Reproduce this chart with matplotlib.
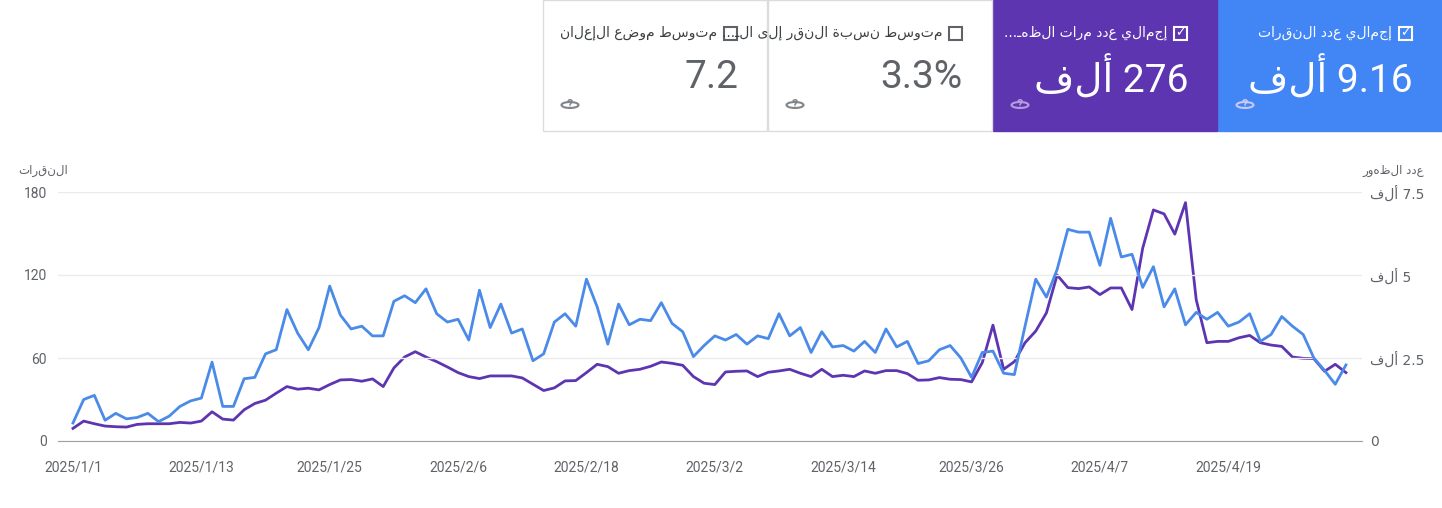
import numpy as np
import pandas as pd
import matplotlib.pyplot as plt
from matplotlib.patches import Rectangle, Circle

# daily clicks (left axis)
clicks = [13, 30, 33, 15, 20, 16, 17, 20, 14, 18, 25, 29, 31, 57, 25, 25, 45, 46, 63, 66,
          95, 78, 66, 82, 112, 91, 81, 83, 76, 76, 101, 105, 100, 110, 92, 86, 88, 73, 109, 82,
          99, 78, 81, 58, 63, 86, 92, 83, 117, 97, 70, 99, 84, 88, 87, 100, 85, 79, 61, 69,
          76, 73, 77, 70, 76, 74, 92, 76, 82, 64, 79, 68, 69, 65, 72, 64, 81, 68, 72, 56,
          58, 66, 69, 60, 46, 64, 65, 49, 48, 83, 117, 104, 124, 153, 151, 151, 127, 161, 133, 135,
          111, 126, 97, 110, 84, 93, 88, 93, 83, 86, 92, 72, 77, 90, 83, 77, 60, 51, 41, 55]
# daily impressions in thousands (right axis)
impr = [0.38, 0.60, 0.52, 0.45, 0.43, 0.42, 0.50, 0.52, 0.52, 0.52, 0.56, 0.54, 0.60, 0.88, 0.66,
        0.63, 0.94, 1.13, 1.23, 1.44, 1.64, 1.56, 1.59, 1.54, 1.70, 1.84, 1.85, 1.80, 1.87, 1.64,
        2.20, 2.53, 2.69, 2.53, 2.39, 2.23, 2.06, 1.94, 1.88, 1.96, 1.96, 1.96, 1.90, 1.71, 1.52,
        1.60, 1.81, 1.82, 2.06, 2.31, 2.24, 2.04, 2.12, 2.16, 2.25, 2.38, 2.34, 2.28, 1.94, 1.74,
        1.70, 2.08, 2.10, 2.11, 1.94, 2.07, 2.11, 2.16, 2.04, 1.94, 2.16, 1.94, 1.98, 1.94, 2.11,
        2.04, 2.12, 2.12, 2.03, 1.83, 1.84, 1.91, 1.86, 1.85, 1.78, 2.36, 3.49, 2.16, 2.39, 2.96,
        3.31, 3.86, 5.00, 4.62, 4.59, 4.64, 4.41, 4.61, 4.61, 3.96, 5.81, 6.96, 6.84, 6.23, 7.18,
        4.26, 2.96, 3.00, 3.00, 3.11, 3.18, 2.96, 2.89, 2.85, 2.53, 2.49, 2.48, 2.10, 2.31, 2.06]
dates = pd.date_range('2025-01-01', periods=len(clicks), freq='D')
tick_days = list(range(0, 109, 12))
tick_labels = [f"{dates[d].year}/{dates[d].month}/{dates[d].day}" for d in tick_days]

# cards: label, value, unit, checked, face colour
cards = [
    ("إجمالي عدد النقرات", "9.16", "ألف", True, "#4285f4"),
    ("إجمالي عدد مرات الظهـ...", "276", "ألف", True, "#5e35b1"),
    ("متوسط نسبة النقر إلى الـ...", "3.3%", "", False, "white"),
    ("متوسط موضع الإعلان", "7.2", "", False, "white"),
]


def ar(s):
    # no bidi shaping in matplotlib, so flip to visual order
    return s[::-1]


W, H = 1442, 508
fig = plt.figure(figsize=(W / 100, H / 100), dpi=100)
plt.rcParams['font.family'] = ['Roboto', 'DejaVu Sans']
grey = "#5f6368"

# top cards
for i, (label, val, unit, checked, face) in enumerate(cards):
    x0 = 1218 - i * 225
    fig.add_artist(Rectangle((x0 / W, 1 - 131 / H), 224 / W, 131 / H, transform=fig.transFigure,
                             facecolor=face, edgecolor="#dadce0" if face == "white" else face, lw=1))
    fg = "white" if face != "white" else grey
    fig.text((x0 + 174) / W, 1 - 33 / H, ar(label), ha='right', va='center', fontsize=10,
             color="white" if face != "white" else "#3c4043", family=['DejaVu Sans'])
    fig.add_artist(Rectangle(((x0 + 181) / W, 1 - 40 / H), 13 / W, 13 / H, transform=fig.transFigure,
                             facecolor='none', edgecolor=fg, lw=1.5))
    if checked:
        fig.text((x0 + 187.5) / W, 1 - 33 / H, "✓", ha='center', va='center', fontsize=9,
                 color="white", family=['DejaVu Sans'], weight='bold')
    vtxt = (ar(unit) + " " + val) if unit else val
    fig.text((x0 + 195) / W, 1 - 78 / H, vtxt, ha='right', va='center', fontsize=28,
             color="white" if face != "white" else "#5f6368", family=['Roboto', 'DejaVu Sans'])
    qc = "#c6c9f5" if face == "#4285f4" else ("#b39ddb" if face == "#5e35b1" else "#80868b")
    fig.add_artist(Circle(((x0 + 27) / W, 1 - 105 / H), 8.5 / W, transform=fig.transFigure,
                          facecolor='none', edgecolor=qc, lw=1.5))
    fig.text((x0 + 27) / W, 1 - 105 / H, "?", ha='center', va='center', fontsize=9, color=qc,
             weight='bold')

ax = fig.add_axes([58 / W, 1 - 441 / H, (1362 - 58) / W, (441 - 192) / H])
ax2 = ax.twinx()
x = np.arange(len(clicks))
ax.plot(x, clicks, color="#4a8ae8", lw=2, zorder=3)
ax2.plot(x, np.array(impr) * 1000, color="#5e35b1", lw=2)
ax.set_xlim(-1.4, len(clicks) - 1 + 1.5)
ax.set_ylim(0, 180)
ax2.set_ylim(0, 7500)
ax.set_yticks([0, 60, 120, 180])
ax2.set_yticks([0, 2500, 5000, 7500])
ax2.set_yticklabels(["0"] + [ar("ألف") + " " + v for v in ["2.5", "5", "7.5"]],
                    family=['DejaVu Sans'])
ax.set_xticks(tick_days)
ax.set_xticklabels(tick_labels)
ax.grid(axis='y', color="#ebebeb", lw=1)
for a in (ax, ax2):
    for s in ['top', 'left', 'right', 'bottom']:
        a.spines[s].set_visible(False)
    a.tick_params(length=0, colors=grey, labelsize=10)
ax.spines['bottom'].set_visible(True)
ax.spines['bottom'].set_color("#9aa0a6")
ax.tick_params(axis='y', pad=8)
ax.tick_params(axis='x', pad=14)
ax2.tick_params(axis='y', pad=6)
ax.set_zorder(ax2.get_zorder() + 1)
ax.patch.set_visible(False)

fig.text(18 / W, 1 - 170 / H, ar("النقرات"), fontsize=8.5, color=grey, va='center',
         family=['DejaVu Sans'])
fig.text(1424 / W, 1 - 170 / H, ar("عدد الظهور"), fontsize=8.5, color=grey, va='center',
         ha='right', family=['DejaVu Sans'])

fig.savefig("out.png", dpi=100)
